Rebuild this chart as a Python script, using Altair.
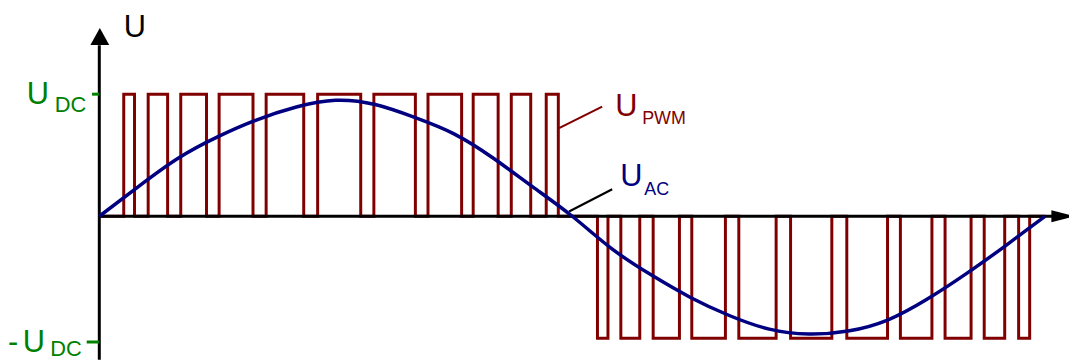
import altair as alt
import pandas as pd

# ---- data (x in electrical degrees, y in units of U_DC) ----
pos_start = [9.3, 18.6, 31.0, 45.6, 63.5, 83.1, 104.5, 125.1, 142.3, 156.8, 170.1]
pos_end = [13.4, 26.0, 40.8, 58.5, 77.8, 99.5, 120.3, 137.9, 151.8, 164.2, 174.7]
neg_start = [189.6, 198.5, 210.8, 225.5, 243.4, 263.1, 284.5, 304.9, 321.9, 336.8, 349.9]
neg_end = [193.6, 205.7, 220.8, 238.3, 257.6, 278.8, 300.0, 316.9, 331.8, 344.6, 354.1]

sine_deg = [0, 15, 30, 45, 60, 75, 90, 105, 120, 135, 150, 165, 180,
            195, 210, 225, 240, 255, 270, 285, 300, 315, 330, 345, 360]
sine_val = [0, 0.245, 0.475, 0.650, 0.790, 0.895, 0.950, 0.915, 0.810, 0.675, 0.475, 0.240, 0.0,
            -0.265, -0.480, -0.665, -0.815, -0.925, -0.965, -0.940, -0.850, -0.680, -0.470, -0.240, 0.0]

# build PWM polyline from the pulse edges
pwm_x, pwm_y = [0.0], [0.0]
for a, b in zip(pos_start, pos_end):
    pwm_x += [a, a, b, b]
    pwm_y += [0, 1, 1, 0]
for a, b in zip(neg_start, neg_end):
    pwm_x += [a, a, b, b]
    pwm_y += [0, -1, -1, 0]
pwm_x.append(360.0)
pwm_y.append(0.0)
pwm = pd.DataFrame({"x": pwm_x, "y": pwm_y, "i": range(len(pwm_x))})
sine = pd.DataFrame({"x": sine_deg, "y": sine_val})

MAROON = "#800000"
NAVY = "#000080"
GREEN = "#008000"
FONT = "Liberation Sans"

XS = alt.Scale(domain=[-34.75, 369.07], nice=False, zero=False)
YS = alt.Scale(domain=[-1.1748, 1.6951], nice=False, zero=False)


def X(field="x"):
    return alt.X(f"{field}:Q", scale=XS, axis=None)


def Y(field="y"):
    return alt.Y(f"{field}:Q", scale=YS, axis=None)


pwm_line = alt.Chart(pwm).mark_line(color=MAROON, strokeWidth=3, strokeJoin="miter").encode(
    x=X(), y=Y(), order="i:Q")

axes = pd.DataFrame({"x": [0, 0], "x2": [0, 362.6], "y": [-1.1748, 0], "y2": [1.40, 0]})
axis_rules = alt.Chart(axes).mark_rule(color="black", strokeWidth=3).encode(
    x=X(), x2="x2:Q", y=Y(), y2="y2:Q")

ticks = pd.DataFrame({"x": [-2.76, -4.8], "x2": [0, 0], "y": [1.0, -1.03]})
tick_rules = alt.Chart(ticks).mark_rule(color=GREEN, strokeWidth=3).encode(
    x=X(), x2="x2:Q", y=Y())

sine_line = alt.Chart(sine).mark_line(color=NAVY, strokeWidth=3.5, interpolate="natural").encode(
    x=X(), y=Y())

leaders = pd.DataFrame({
    "x": [174.99, 178.8], "x2": [191.4, 195.2],
    "y": [0.722, 0.039], "y2": [0.898, 0.221],
    "c": [MAROON, "black"]})
leader_rules = alt.Chart(leaders).mark_rule(strokeWidth=2.2).encode(
    x=X(), x2="x2:Q", y=Y(), y2="y2:Q", color=alt.Color("c:N", scale=None))

arrow_up = alt.Chart(pd.DataFrame({"x": [0.2], "y": [1.473]})).mark_point(
    shape="M0,-0.9L1,0.9L-1,0.9Z", size=361, filled=True, color="black", opacity=1,
    strokeWidth=0).encode(x=X(), y=Y())
arrow_right = alt.Chart(pd.DataFrame({"x": [366.9], "y": [0.0]})).mark_point(
    shape="M-1,-0.5L1,0L-1,0.5Z", size=576, filled=True, color="black", opacity=1,
    strokeWidth=0).encode(x=X(), y=Y())

labels = pd.DataFrame({
    "t": ["U", "U", "DC", "-", "U", "DC", "U", "PWM", "U", "AC"],
    "x": [9.29, -27.57, -17.0, -34.75, -29.09, -18.7, 196.4, 206.6, 198.3, 207.4],
    "y": [1.47, 0.923, 0.85, -1.11, -1.11, -1.145, 0.825, 0.758, 0.248, 0.175],
    "c": ["black", GREEN, GREEN, GREEN, GREEN, GREEN, MAROON, MAROON, NAVY, NAVY],
    "s": [31, 31, 22, 31, 31, 22, 31, 18, 31, 18],
})
texts = alt.Chart(labels).mark_text(align="left", baseline="alphabetic", font=FONT).encode(
    x=X(), y=Y(), text="t:N",
    color=alt.Color("c:N", scale=None), size=alt.Size("s:Q", scale=None))

chart = alt.layer(
    pwm_line, axis_rules, tick_rules, sine_line, leader_rules, arrow_up, arrow_right, texts
).properties(
    width=1069, height=353, padding=0, autosize=alt.AutoSizeParams(type="none")
).configure_view(stroke=None)

chart.save("out.html", embed_options={"renderer": "svg", "actions": False})
